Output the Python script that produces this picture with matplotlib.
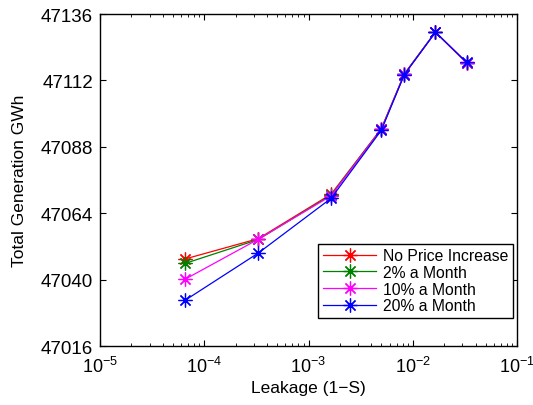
import matplotlib
matplotlib.use('Agg')
import matplotlib.pyplot as plt
from matplotlib.ticker import LogLocator, NullFormatter

plt.rcParams['font.family'] = ['Liberation Sans', 'DejaVu Sans']
plt.rcParams['mathtext.fontset'] = 'custom'
plt.rcParams['mathtext.rm'] = 'Liberation Sans'

# leakage values (1-S) and total generation per price scenario
leakage = [6.6e-5, 3.3e-4, 1.65e-3, 5.0e-3, 8.3e-3, 1.65e-2, 3.3e-2]
no_increase = [47047.5, 47054.8, 47070.9, 47094.6, 47114.3, 47129.5, 47118.2]
two_pct = [47045.9, 47054.5, 47070.6, 47094.5, 47114.3, 47129.5, 47118.3]
ten_pct = [47040.2, 47054.6, 47070.3, 47094.4, 47114.2, 47129.4, 47118.4]
twenty_pct = [47032.6, 47049.6, 47069.4, 47094.0, 47114.1, 47129.4, 47118.5]

labels = ['No Price Increase', '2% a Month', '10% a Month', '20% a Month']
colors = ['red', (0, 0.5, 0), 'magenta', 'blue']
yticks = list(range(47016, 47137, 24))

fig = plt.figure(figsize=(5.33, 4.06), dpi=100)
ax = fig.add_axes([0.1876, 0.1453, 0.7824, 0.8177])

# 8-spoke asterisk marker, like '+' and 'x' overlaid
for ys, c, lab in zip([no_increase, two_pct, ten_pct, twenty_pct], colors, labels):
    ax.plot(leakage, ys, '-', marker=(8, 2, 0), color=c, label=lab, lw=0.9, ms=10, mew=0.9)

ax.set_xscale('log')
ax.set_xlim(1e-5, 1e-1)
ax.set_ylim(47016, 47136)
ax.set_yticks(yticks)
ax.set_xticks([1e-5, 1e-4, 1e-3, 1e-2, 1e-1])
ax.xaxis.set_minor_locator(LogLocator(base=10, subs=range(2, 10)))
ax.xaxis.set_minor_formatter(NullFormatter())
ax.tick_params(which='both', direction='in', top=True, right=True)
ax.tick_params(which='major', length=4)
ax.tick_params(which='minor', length=2)
ax.tick_params(axis='y', labelsize=13.5, pad=5)
ax.tick_params(axis='x', labelsize=13, pad=7)
for s in ax.spines.values():
    s.set_linewidth(1.0)

ax.set_xlabel('Leakage (1\u2212S)', fontsize=12.5, labelpad=3)
ax.set_ylabel('Total Generation GWh', fontsize=12.5, labelpad=10)

leg = ax.legend(loc='lower right', bbox_to_anchor=(0.99, 0.085), fontsize=11.3,
                fancybox=False, framealpha=1, edgecolor='black', borderpad=0.3,
                labelspacing=0.1, handlelength=3.4, handletextpad=0.4, borderaxespad=0)
leg.get_frame().set_linewidth(1.0)

fig.savefig('out.png', dpi=100)
